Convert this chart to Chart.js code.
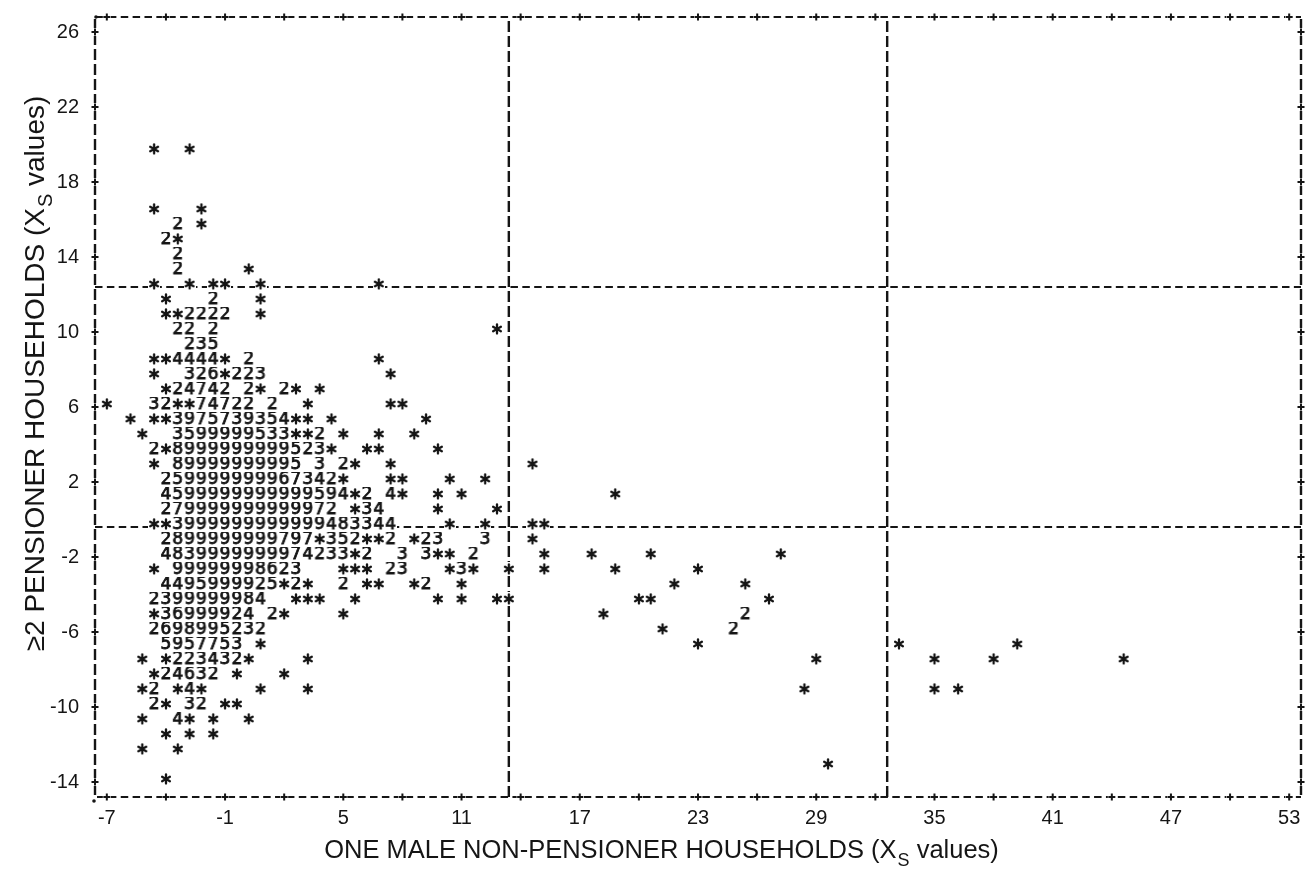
<!DOCTYPE html>
<html>
<head>
<meta charset="utf-8">
<script src="https://cdn.jsdelivr.net/npm/chart.js@4.4.0/dist/chart.umd.min.js"></script>
<style>
  html, body { margin: 0; padding: 0; background: #fff; }
  #wrap { width: 1309px; height: 872px; }
</style>
</head>
<body>
<div id="wrap"><canvas id="plot" width="1309" height="872"></canvas></div>
<script>
// line-printer plot: one row per printed line, marks are the printed characters
const rowY = [19.6, 16.4, 15.6, 14.8, 14.0, 13.2, 12.4, 11.6, 10.8, 10.0,
  9.2, 8.4, 7.6, 6.8, 6.0, 5.2, 4.4, 3.6, 2.8, 2.0,
  1.2, 0.4, -0.4, -1.2, -2.0, -2.8, -3.6, -4.4, -5.2, -6.0,
  -6.8, -7.6, -8.4, -9.2, -10.0, -10.8, -11.6, -12.4, -13.2, -14.0]

const rowX = [
  [-4.6, -2.8],
  [-4.6, -2.2],
  [-3.4, -2.2],
  [-4.0, -3.4],
  [-3.4],
  [-3.4, 0.2],
  [-4.6, -2.8, -1.6, -1.0, 0.8, 6.8],
  [-4.0, -1.6, 0.8],
  [-4.0, -3.4, -2.8, -2.2, -1.6, -1.0, 0.8],
  [-3.4, -2.8, -1.6, 12.8],
  [-2.8, -2.2, -1.6],
  [-4.6, -4.0, -3.4, -2.8, -2.2, -1.6, -1.0, 0.2, 6.8],
  [-4.6, -2.8, -2.2, -1.6, -1.0, -0.4, 0.2, 0.8, 7.4],
  [-4.0, -3.4, -2.8, -2.2, -1.6, -1.0, 0.2, 0.8, 2.0, 2.6, 3.8],
  [-7.0, -4.6, -4.0, -3.4, -2.8, -2.2, -1.6, -1.0, -0.4, 0.2, 1.4, 3.2, 7.4, 8.0],
  [-5.8, -4.6, -4.0, -3.4, -2.8, -2.2, -1.6, -1.0, -0.4, 0.2, 0.8, 1.4, 2.0, 2.6, 3.2, 4.4, 9.2],
  [-5.2, -3.4, -2.8, -2.2, -1.6, -1.0, -0.4, 0.2, 0.8, 1.4, 2.0, 2.6, 3.2, 3.8, 5.0, 6.8, 8.6],
  [-4.6, -4.0, -3.4, -2.8, -2.2, -1.6, -1.0, -0.4, 0.2, 0.8, 1.4, 2.0, 2.6, 3.2, 3.8, 4.4, 6.2, 6.8, 9.8],
  [-4.6, -3.4, -2.8, -2.2, -1.6, -1.0, -0.4, 0.2, 0.8, 1.4, 2.0, 2.6, 3.8, 5.0, 5.6, 7.4, 14.6],
  [-4.0, -3.4, -2.8, -2.2, -1.6, -1.0, -0.4, 0.2, 0.8, 1.4, 2.0, 2.6, 3.2, 3.8, 4.4, 5.0, 7.4, 8.0, 10.4, 12.2],
  [-4.0, -3.4, -2.8, -2.2, -1.6, -1.0, -0.4, 0.2, 0.8, 1.4, 2.0, 2.6, 3.2, 3.8, 4.4, 5.0, 5.6, 6.2, 7.4, 8.0, 9.8, 11.0, 18.8],
  [-4.0, -3.4, -2.8, -2.2, -1.6, -1.0, -0.4, 0.2, 0.8, 1.4, 2.0, 2.6, 3.2, 3.8, 4.4, 5.6, 6.2, 6.8, 9.8, 12.8],
  [-4.6, -4.0, -3.4, -2.8, -2.2, -1.6, -1.0, -0.4, 0.2, 0.8, 1.4, 2.0, 2.6, 3.2, 3.8, 4.4, 5.0, 5.6, 6.2, 6.8, 7.4, 10.4, 12.2, 14.6, 15.2],
  [-4.0, -3.4, -2.8, -2.2, -1.6, -1.0, -0.4, 0.2, 0.8, 1.4, 2.0, 2.6, 3.2, 3.8, 4.4, 5.0, 5.6, 6.2, 6.8, 7.4, 8.6, 9.2, 9.8, 12.2, 14.6],
  [-4.0, -3.4, -2.8, -2.2, -1.6, -1.0, -0.4, 0.2, 0.8, 1.4, 2.0, 2.6, 3.2, 3.8, 4.4, 5.0, 5.6, 6.2, 8.0, 9.2, 9.8, 10.4, 11.6, 15.2, 17.6, 20.6, 27.2],
  [-4.6, -3.4, -2.8, -2.2, -1.6, -1.0, -0.4, 0.2, 0.8, 1.4, 2.0, 2.6, 5.0, 5.6, 6.2, 7.4, 8.0, 10.4, 11.0, 11.6, 13.4, 15.2, 18.8, 23.0],
  [-4.0, -3.4, -2.8, -2.2, -1.6, -1.0, -0.4, 0.2, 0.8, 1.4, 2.0, 2.6, 3.2, 5.0, 6.2, 6.8, 8.6, 9.2, 11.0, 21.8, 25.4],
  [-4.6, -4.0, -3.4, -2.8, -2.2, -1.6, -1.0, -0.4, 0.2, 0.8, 2.6, 3.2, 3.8, 5.6, 9.8, 11.0, 12.8, 13.4, 20.0, 20.6, 26.6],
  [-4.6, -4.0, -3.4, -2.8, -2.2, -1.6, -1.0, -0.4, 0.2, 1.4, 2.0, 5.0, 18.2, 25.4],
  [-4.6, -4.0, -3.4, -2.8, -2.2, -1.6, -1.0, -0.4, 0.2, 0.8, 21.2, 24.8],
  [-4.0, -3.4, -2.8, -2.2, -1.6, -1.0, -0.4, 0.8, 23.0, 33.2, 39.2],
  [-5.2, -4.0, -3.4, -2.8, -2.2, -1.6, -1.0, -0.4, 0.2, 3.2, 29.0, 35.0, 38.0, 44.6],
  [-4.6, -4.0, -3.4, -2.8, -2.2, -1.6, -0.4, 2.0],
  [-5.2, -4.6, -3.4, -2.8, -2.2, 0.8, 3.2, 28.4, 35.0, 36.2],
  [-4.6, -4.0, -2.8, -2.2, -1.0, -0.4],
  [-5.2, -3.4, -2.8, -1.6, 0.2],
  [-4.0, -2.8, -1.6],
  [-5.2, -3.4],
  [29.6],
  [-4.0]
]

const rowMarks = [
  "**", "**", "2*", "2*", "2", "2*", "******", "*2*", "**2222*", "222*",
  "235", "**4444*2*", "*326*223*", "*247422*2**", "*32**747222***",
  "***3975739354****", "*3599999533**2***", "2*8999999999523****",
  "*8999999999532***", "259999999967342*****", "4599999999999594*24****",
  "279999999999972*34**", "**3999999999999483344****", "2899999999797*352**2*233*",
  "4839999999974233*233**2****", "*99999998623***23*3*****", "4495999925*2*2***2***",
  "2399999984***********", "*369999242***2", "2698995232*2", "5957753****",
  "**223432******", "*24632**", "*2*4******", "2*32**", "*4***", "***", "**", "*", "*"
]

const xTicks = [-7, -1, 5, 11, 17, 23, 29, 35, 41, 47, 53]
const xPlus = [-7, -4, -1, 2, 5, 8, 11, 14, 17, 20, 23, 26, 29, 32, 35, 38, 41, 44, 47, 50, 53]
const yTicks = [26, 22, 18, 14, 10, 6, 2, -2, -6, -10, -14]
const refX = [13.4, 32.6]
const refY = [12.4, -0.4]
const xRange = [-7.6, 53.6]
const yRange = [-14.8, 26.8]

const ink = '#151515'

// one small canvas per printed character, used as the point style
// (glyph sits a little above the row value, as the printer did)
function makeGlyph(ch){
    const c = document.createElement('canvas')
    c.width = 12; c.height = 20
    const g = c.getContext('2d')
    g.fillStyle = '#fff'
    g.fillRect(0, 0, 12, 14)
    g.fillStyle = ink
    g.strokeStyle = ink
    if(ch == '*'){
        g.lineWidth = 2.3
        g.lineCap = 'round'
        for(const a of [90, 30, 150]){
            const t = a * Math.PI / 180
            g.beginPath()
            g.moveTo(6 - 4.5 * Math.cos(t), 7 - 4.5 * Math.sin(t))
            g.lineTo(6 + 4.5 * Math.cos(t), 7 + 4.5 * Math.sin(t))
            g.stroke()
        }
    } else {
        g.font = '18px "DejaVu Sans Mono"'
        g.textAlign = 'center'
        g.textBaseline = 'middle'
        g.lineWidth = 0.8
        g.fillText(ch, 6, 7.5)
        g.strokeText(ch, 6, 7.5)
    }
    return c
}
const glyphs = {}
rowMarks.join('').split('').forEach(ch => { if(!glyphs[ch]) glyphs[ch] = makeGlyph(ch) })

const points = []
rowY.forEach((y, i) => {
    rowX[i].forEach((x, j) => points.push({x: x, y: y, m: rowMarks[i][j]}))
})

// dashed frame with "+" marks, like the printer border
const framePlugin = {
    id: 'frame',
    afterDatasetsDraw(chart){
        const {ctx, chartArea: a, scales: {x, y}} = chart
        ctx.save()
        ctx.strokeStyle = ink
        ctx.lineWidth = 2
        ctx.setLineDash([7.5, 4.37])
        ctx.lineDashOffset = -2
        ctx.beginPath()
        ctx.moveTo(a.left, a.top); ctx.lineTo(a.right, a.top)
        ctx.moveTo(a.left, a.bottom); ctx.lineTo(a.right, a.bottom)
        ctx.stroke()
        ctx.setLineDash([11, 4])
        ctx.lineWidth = 2.4
        ctx.beginPath()
        ctx.moveTo(a.left, a.top); ctx.lineTo(a.left, a.bottom)
        ctx.moveTo(a.right, a.top); ctx.lineTo(a.right, a.bottom)
        ctx.stroke()
        ctx.setLineDash([])
        ctx.lineWidth = 2
        const plus = (px, py) => {
            ctx.fillStyle = '#fff'
            ctx.fillRect(px - 4, py - 4, 8, 8)
            ctx.beginPath()
            ctx.moveTo(px - 3.5, py); ctx.lineTo(px + 3.5, py)
            ctx.moveTo(px, py - 3.5); ctx.lineTo(px, py + 3.5)
            ctx.stroke()
        }
        xPlus.forEach(v => { const px = x.getPixelForValue(v); plus(px, a.top); plus(px, a.bottom) })
        yTicks.forEach(v => { const py = y.getPixelForValue(v); plus(a.left, py); plus(a.right, py) })
        ctx.fillStyle = ink
        ctx.beginPath(); ctx.arc(a.left - 1, a.bottom + 4, 1.8, 0, Math.PI * 2); ctx.fill()
        ctx.beginPath(); ctx.arc(a.left + 1, a.top, 1.8, 0, Math.PI * 2); ctx.fill()
        ctx.restore()
    }
}

// axis titles with a subscript S
function subTitle(ctx, cx, cy, size, head, sub, tail){
    const f = '"Liberation Sans", Arial, sans-serif'
    const small = Math.round(size * 0.72) + 'px ' + f
    ctx.font = size + 'px ' + f
    const w1 = ctx.measureText(head).width
    const w3 = ctx.measureText(tail).width
    ctx.font = small
    const w2 = ctx.measureText(sub).width
    const x = cx - (w1 + w2 + w3) / 2
    ctx.textBaseline = 'alphabetic'
    ctx.textAlign = 'left'
    ctx.font = size + 'px ' + f
    ctx.fillText(head, x, cy)
    ctx.font = small
    ctx.fillText(sub, x + w1 + 1, cy + size * 0.3)
    ctx.font = size + 'px ' + f
    ctx.fillText(tail, x + w1 + w2 + 1, cy)
}
const titlePlugin = {
    id: 'titles',
    afterDraw(chart){
        const ctx = chart.ctx
        ctx.save()
        ctx.fillStyle = ink
        subTitle(ctx, 661, 858, 25.5, 'ONE MALE NON-PENSIONER HOUSEHOLDS (X', 'S', ' values)')
        ctx.translate(44, 374)
        ctx.rotate(-Math.PI / 2)
        subTitle(ctx, 0, 0, 28, '\u22652 PENSIONER HOUSEHOLDS (X', 'S', ' values)')
        ctx.restore()
    }
}

const tickFont = {family: '"Liberation Sans", Arial, sans-serif', size: 20}

new Chart(document.getElementById('plot'), {
    type: 'scatter',
    data: {
        datasets: [{
            data: points,
            pointStyle: c => glyphs[c.raw ? c.raw.m : '*'],
            pointRadius: 3,
            order: 0
        },
        ...refX.map(v => ({
            type: 'line',
            data: [{x: v, y: yRange[0]}, {x: v, y: yRange[1]}],
            borderColor: ink, borderWidth: 2.4, borderDash: [11, 4],
            pointRadius: 0, order: 1
        })),
        ...refY.map(v => ({
            type: 'line',
            data: [{x: xRange[0], y: v}, {x: xRange[1], y: v}],
            borderColor: ink, borderWidth: 2, borderDash: [7.5, 4.37],
            pointRadius: 0, order: 1
        }))]
    },
    options: {
        responsive: false,
        animation: false,
        events: [],
        layout: {padding: {top: 17, right: 8, left: 0, bottom: 0}},
        plugins: {legend: {display: false}, tooltip: {enabled: false}},
        scales: {
            x: {
                type: 'linear', min: xRange[0], max: xRange[1],
                afterBuildTicks: s => { s.ticks = xTicks.map(v => ({value: v})) },
                afterFit: s => { s.height = 75; s.paddingLeft = 0; s.paddingRight = 0 },
                grid: {display: false, drawTicks: false},
                border: {display: false},
                ticks: {color: ink, font: tickFont, padding: 9, maxRotation: 0, autoSkip: false,
                        callback: v => String(v)}
            },
            y: {
                type: 'linear', min: yRange[0], max: yRange[1],
                afterBuildTicks: s => { s.ticks = yTicks.map(v => ({value: v})) },
                afterFit: s => { s.width = 95; s.paddingTop = 0; s.paddingBottom = 0 },
                grid: {display: false, drawTicks: false},
                border: {display: false},
                ticks: {color: ink, font: tickFont, padding: 16, autoSkip: false,
                        callback: v => String(v)}
            }
        }
    },
    plugins: [framePlugin, titlePlugin]
})
</script>
</body>
</html>
